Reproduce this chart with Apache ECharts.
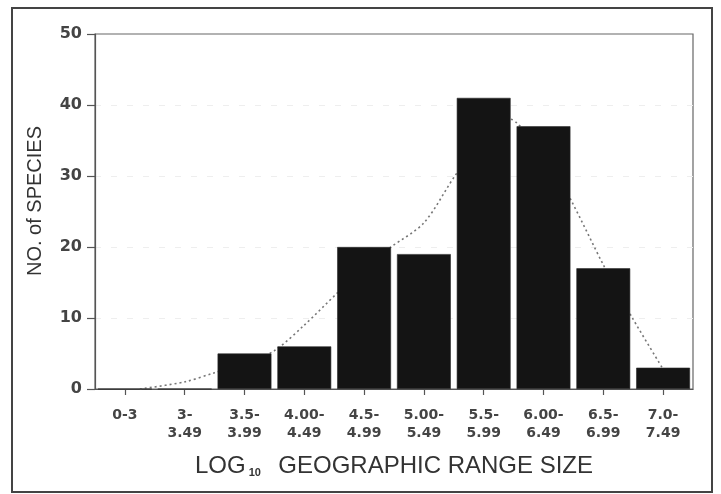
<!DOCTYPE html>
<html>
<head>
<meta charset="utf-8">
<script src="https://cdn.jsdelivr.net/npm/echarts@6/dist/echarts.min.js"></script>
<style>
  html, body { margin: 0; padding: 0; background: #fff; }
  #chart { width: 721px; height: 494px; }
</style>
</head>
<body>
<div id="chart"></div>
<script>
// Range-size classes (log10 of geographic range)
const categories = ['0-3', '3-\n3.49', '3.5-\n3.99', '4.00-\n4.49', '4.5-\n4.99',
                    '5.00-\n5.49', '5.5-\n5.99', '6.00-\n6.49', '6.5-\n6.99', '7.0-\n7.49'];
// Number of species in each class
const speciesCounts = [0, 0, 5, 6, 20, 19, 41, 37, 17, 3];
// Fitted frequency curve, x in class units (class i spans i..i+1)
const curveX = [0.75, 1.5, 2.0, 2.5, 3.0, 3.5, 4.05, 4.5, 4.95, 5.5, 6.05, 6.5, 6.95, 7.05, 7.5, 7.96, 8.5, 8.98, 9.5];
const curveY = [0, 1, 2.3, 3.6, 5.4, 9, 13.5, 17, 20, 23.4, 30.4, 35, 38, 37.5, 33.5, 26.6, 17.5, 10.1, 2.8];
const yTicks = [0, 10, 20, 30, 40, 50];

const chart = echarts.init(document.getElementById('chart'), null, { renderer: 'canvas' });

const tickFont = 'DejaVu Sans';
const titleFont = 'Liberation Sans, Arial, sans-serif';

chart.setOption({
  animation: false,
  backgroundColor: '#ffffff',
  grid: {
    left: 95, right: 28, top: 34, bottom: 105,
    show: true, borderColor: '#666', borderWidth: 1.2
  },
  graphic: [{
    type: 'rect',
    shape: { x: 12, y: 8, width: 700, height: 484 },
    style: { fill: 'none', stroke: '#444', lineWidth: 2 },
    z: 10
  }, {
    type: 'text',
    x: 35, y: 201,
    rotation: Math.PI / 2,
    style: {
      text: 'NO. of SPECIES',
      fontFamily: titleFont, fontSize: 20, fill: '#333',
      align: 'center', verticalAlign: 'middle'
    },
    z: 10
  }],
  xAxis: [{
    type: 'category',
    data: categories,
    axisLine: { lineStyle: { color: '#555', width: 1.2 } },
    axisTick: { show: true, alignWithLabel: true, length: 6, lineStyle: { color: '#555', width: 1.2 } },
    axisLabel: {
      color: '#444', fontFamily: tickFont, fontWeight: 'bold', fontSize: 14,
      lineHeight: 18, margin: 17, interval: 0
    },
    name: '{a|LOG}{s| 10}{a|  GEOGRAPHIC RANGE SIZE}',
    nameLocation: 'middle',
    nameGap: 61,
    nameTextStyle: {
      rich: {
        a: { fontFamily: titleFont, fontSize: 24, color: '#333', verticalAlign: 'bottom', lineHeight: 28 },
        s: { fontFamily: titleFont, fontSize: 11, color: '#333', fontWeight: 'bold', verticalAlign: 'bottom', lineHeight: 21, padding: [0, 4, 0, 0] }
      }
    }
  }, {
    type: 'value',
    min: 0, max: 10,
    show: false
  }],
  yAxis: {
    type: 'value',
    min: yTicks[0], max: yTicks[yTicks.length - 1], interval: 10,
    axisLine: { show: true, lineStyle: { color: '#555', width: 1.2 } },
    axisTick: { show: true, length: 8, lineStyle: { color: '#555', width: 1.2 } },
    axisLabel: { color: '#444', fontFamily: tickFont, fontWeight: 'bold', fontSize: 16, margin: 13 },
    splitLine: {
      show: true, showMinLine: false, showMaxLine: false,
      lineStyle: { color: '#eeeeee', type: [6, 10], width: 1 }
    }
  },
  series: [{
    type: 'bar',
    data: speciesCounts,
    barCategoryGap: '10%',
    itemStyle: { color: '#141414', borderColor: '#2a2a2a', borderWidth: 0.6 },
    z: 3
  }, {
    type: 'line',
    xAxisIndex: 1,
    data: curveX.map((x, i) => [x, curveY[i]]),
    smooth: 0.3,
    symbol: 'none',
    lineStyle: { color: '#777', width: 1.6, type: [2, 3] },
    z: 2
  }]
});
</script>
</body>
</html>
